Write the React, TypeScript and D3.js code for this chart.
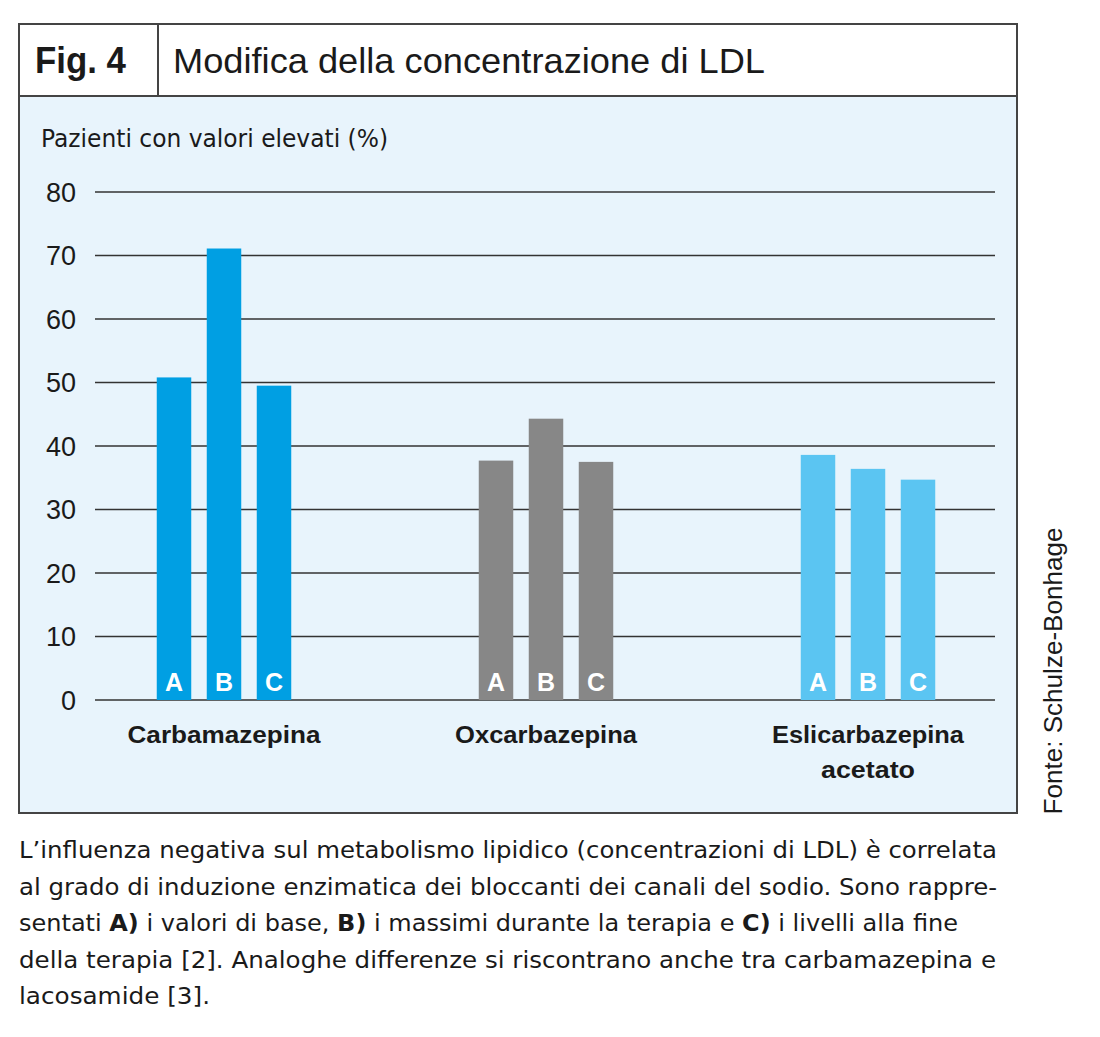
import * as d3 from "d3";

const groups = ["Carbamazepina", "Oxcarbazepina", "Eslicarbazepina acetato"];
const groupLines = [["Carbamazepina"], ["Oxcarbazepina"], ["Eslicarbazepina", "acetato"]];
const groupLineWidths = [[193], [182], [192, 94]];
const phases = ["A", "B", "C"];
const valuesA = [50.8, 37.7, 38.6];
const valuesB = [71.1, 44.3, 36.4];
const valuesC = [49.5, 37.5, 34.7];
const groupColors = ["#009fe3", "#878787", "#5bc5f2"];
const yTicks = [0, 10, 20, 30, 40, 50, 60, 70, 80];

const figLabel = "Fig. 4";
const title = "Modifica della concentrazione di LDL";
const yTitle = "Pazienti con valori elevati (%)";
const source = "Fonte: Schulze-Bonhage";

// caption lines, bold parts marked with **
const captionLines = [
  "L\u2019influenza negativa sul metabolismo lipidico (concentrazioni di LDL) è correlata",
  "al grado di induzione enzimatica dei bloccanti dei canali del sodio. Sono rappre-",
  "sentati **A)** i valori di base, **B)** i massimi durante la terapia e **C)** i livelli alla fine",
  "della terapia [2]. Analoghe differenze si riscontrano anche tra carbamazepina e",
  "lacosamide [3].",
];
const captionWidths = [978, 978, 939, 977, 191];

const SANS = "'Liberation Sans', Arial, sans-serif";
const WIDE = "'DejaVu Sans', sans-serif";

export default function App() {
  const width = 1100;
  const height = 1037;

  const frame = { left: 19, right: 1017, top: 24, bottom: 813, header: 96, divider: 158 };

  const y = d3.scaleLinear().domain([0, 80]).range([700, 192]);
  const gridX0 = 95;
  const gridX1 = 995;

  const x0 = d3.scalePoint<string>().domain(groups).range([224, 868]);
  const x1 = d3
    .scaleBand<string>()
    .domain(phases)
    .range([-75, 75])
    .paddingInner(0.31)
    .paddingOuter(0.155);

  const series = [valuesA, valuesB, valuesC];

  return (
    <svg
      width={width}
      height={height}
      style={{ position: "absolute", left: 0, top: 0, background: "#fff" }}
      fontFamily={SANS}
    >
      {/* frame */}
      <rect
        x={frame.left}
        y={frame.header}
        width={frame.right - frame.left}
        height={frame.bottom - frame.header}
        fill="#e8f4fc"
      />
      <rect
        x={frame.left}
        y={frame.top}
        width={frame.right - frame.left}
        height={frame.bottom - frame.top}
        fill="none"
        stroke="#444"
        strokeWidth={2}
      />
      <line x1={frame.left} x2={frame.right} y1={frame.header} y2={frame.header} stroke="#444" strokeWidth={2} />
      <line x1={frame.divider} x2={frame.divider} y1={frame.top} y2={frame.header} stroke="#444" strokeWidth={2} />
      <text x={35} y={73} fontSize={36} fontWeight="bold" fill="#1a1a1a" textLength={91} lengthAdjust="spacingAndGlyphs">
        {figLabel}
      </text>
      <text x={173} y={73} fontSize={35} fill="#1a1a1a" textLength={592} lengthAdjust="spacingAndGlyphs">
        {title}
      </text>

      {/* y title */}
      <text x={41} y={147} fontSize={24} fontFamily={WIDE} fill="#1a1a1a" textLength={347} lengthAdjust="spacingAndGlyphs">
        {yTitle}
      </text>

      {/* grid + ticks */}
      {yTicks.map((t) => (
        <g key={t}>
          <line x1={gridX0} x2={gridX1} y1={y(t)} y2={y(t)} stroke="#333" strokeWidth={1.6} />
          <text x={76} y={y(t)} dy="0.36em" textAnchor="end" fontSize={27} fill="#1a1a1a">
            {t}
          </text>
        </g>
      ))}

      {/* bars */}
      {groups.map((g, gi) =>
        phases.map((p, pi) => {
          const v = series[pi][gi];
          const bx = (x0(g) ?? 0) + (x1(p) ?? 0);
          return (
            <g key={g + p}>
              <rect
                x={bx}
                y={y(v)}
                width={x1.bandwidth()}
                height={y(0) - y(v)}
                fill={groupColors[gi]}
              />
              <text
                x={bx + x1.bandwidth() / 2}
                y={y(0) - 9}
                textAnchor="middle"
                fontSize={25}
                fontWeight="bold"
                fill="#fff"
              >
                {p}
              </text>
            </g>
          );
        })
      )}

      {/* category labels */}
      {groups.map((g, gi) =>
        groupLines[gi].map((l, li) => (
          <text
            key={g + li}
            x={x0(g)}
            y={743 + li * 35}
            textAnchor="middle"
            fontSize={24}
            fontWeight="bold"
            fill="#1a1a1a"
            textLength={groupLineWidths[gi][li]}
            lengthAdjust="spacingAndGlyphs"
          >
            {l}
          </text>
        ))
      )}

      {/* source */}
      <text
        transform="translate(1062,671) rotate(-90)"
        textAnchor="middle"
        fontSize={26}
        fill="#1a1a1a"
        textLength={287}
        lengthAdjust="spacingAndGlyphs"
      >
        {source}
      </text>

      {/* caption */}
      {captionLines.map((line, i) => (
        <text
          key={i}
          x={19}
          y={858 + i * 36.5}
          fontSize={23}
          fontFamily={WIDE}
          fill="#1a1a1a"
          textLength={captionWidths[i]}
          lengthAdjust="spacingAndGlyphs"
        >
          {line.split("**").map((part, j) => (
            <tspan key={j} fontWeight={j % 2 === 1 ? "bold" : "normal"}>
              {part}
            </tspan>
          ))}
        </text>
      ))}
    </svg>
  );
}
